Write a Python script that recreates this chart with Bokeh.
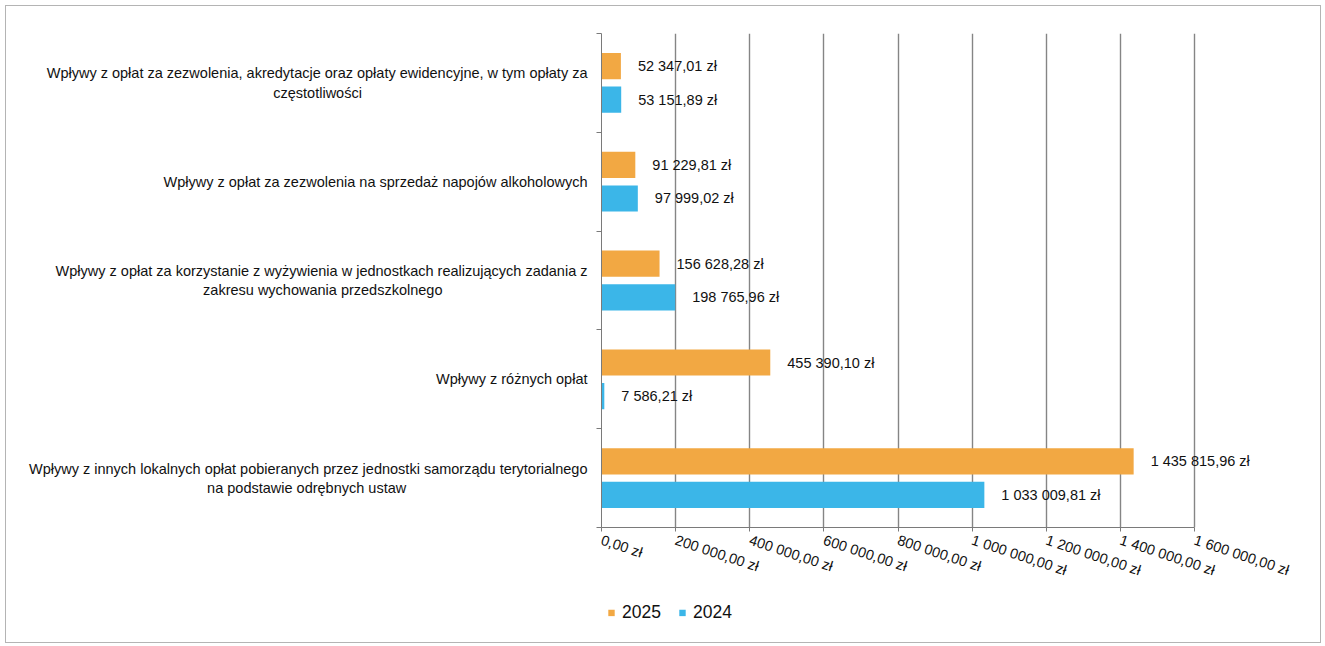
from bokeh.plotting import figure
from bokeh.layouts import column, row
from bokeh.models import (ColumnDataSource, Range1d, FixedTicker, Legend, LegendItem, Spacer)
from bokeh.transform import dodge
from bokeh.core.properties import value
from bokeh.embed import file_html
from bokeh.resources import INLINE

# ---------------- data ----------------
categories = [
    "Wpływy z opłat za zezwolenia, akredytacje oraz opłaty ewidencyjne, w tym opłaty za\nczęstotliwości",
    "Wpływy z opłat za zezwolenia na sprzedaż napojów alkoholowych",
    "Wpływy z opłat za korzystanie z wyżywienia w jednostkach realizujących zadania z\nzakresu wychowania przedszkolnego",
    "Wpływy z różnych opłat",
    "Wpływy z innych lokalnych opłat pobieranych przez jednostki samorządu terytorialnego\nna podstawie odrębnych ustaw",
]
series_names = ["2025", "2024"]
values_2025 = [52347.01, 91229.81, 156628.28, 455390.10, 1435815.96]
values_2024 = [53151.89, 97999.02, 198765.96, 7586.21, 1033009.81]
x_ticks = [0, 200000, 400000, 600000, 800000, 1000000, 1200000, 1400000, 1600000]
x_tick_labels = ["0,00 zł", "200 000,00 zł", "400 000,00 zł", "600 000,00 zł", "800 000,00 zł",
                 "1 000 000,00 zł", "1 200 000,00 zł", "1 400 000,00 zł", "1 600 000,00 zł"]

ORANGE = "#F2A843"
BLUE = "#3BB6E8"
FONT = "Liberation Sans"
TXT = "#111111"
FS = 14.5


def pl_money(v):
    s = f"{v:,.2f}"
    s = s.replace(",", " ").replace(".", ",")
    return s + " zł"


# approximate glyph advance widths (Arial / Liberation Sans, per 1000 em),
# used only to centre the second line of a wrapped category label
_W = {' ': 278, ',': 278, 'W': 944, 'a': 556, 'b': 556, 'c': 500, 'd': 556, 'e': 556,
      'f': 278, 'g': 556, 'h': 556, 'i': 222, 'j': 222, 'k': 500, 'l': 222, 'm': 833,
      'n': 556, 'o': 556, 'p': 556, 'r': 333, 's': 500, 't': 278, 'u': 556, 'v': 500,
      'w': 722, 'y': 500, 'z': 500, 'ł': 222, 'ę': 556, 'ą': 556, 'ś': 500, 'ó': 556,
      'ż': 500, 'ź': 500, 'ń': 556, 'ć': 500}


def text_w(s):
    return sum(_W.get(ch, 556) for ch in s)


def centre_lines(label):
    lines = label.split("\n")
    if len(lines) < 2:
        return label
    w1 = text_w(lines[0])
    out = [lines[0]]
    for ln in lines[1:]:
        pad = round((w1 - text_w(ln)) / 2 / _W[' '])
        out.append(ln + "\u00a0" * max(pad, 0))
    return "\n".join(out)


n = len(categories)
ypos = [n - 1 - i for i in range(n)]

src = ColumnDataSource(dict(
    y=ypos,
    v25=values_2025,
    v24=values_2024,
    l25=[pl_money(v) for v in values_2025],
    l24=[pl_money(v) for v in values_2024],
))

# ---------------- layout ----------------
W = 1314
H_MAIN, H_LEG = 584, 52
BL, BR, BT, BB = 595, 7, 27, 63
frame_w = W - BL - BR
axis_px = 593  # pixels covering 0 .. 1 600 000
x_end = x_ticks[-1] * frame_w / axis_px

p = figure(width=W, height=H_MAIN, output_backend="svg", toolbar_location=None,
           x_range=Range1d(0, x_end), y_range=Range1d(-0.5, n - 0.5),
           min_border_left=BL, min_border_right=BR, min_border_top=BT, min_border_bottom=BB)
p.outline_line_color = None
p.background_fill_color = "white"
p.border_fill_color = "white"

OFF = 0.17
BH = 0.265
r25 = p.hbar(y=dodge("y", OFF), left=0, right="v25", height=BH, source=src,
             fill_color=ORANGE, line_color=None)
r24 = p.hbar(y=dodge("y", -OFF), left=0, right="v24", height=BH, source=src,
             fill_color=BLUE, line_color=None)

for col, off in (("l25", OFF), ("l24", -OFF)):
    p.text(x="v" + col[1:], y=dodge("y", off), text=col, source=src,
           x_offset=17, text_baseline="middle", text_align="left",
           text_font=value(FONT), text_font_size=f"{FS}px", text_color=TXT)

# x axis
xa = p.xaxis[0]
xa.ticker = FixedTicker(ticks=x_ticks)
xa.major_label_overrides = {t: l for t, l in zip(x_ticks, x_tick_labels)}
xa.bounds = (x_ticks[0], x_ticks[-1])
xa.major_label_orientation = -0.32
xa.major_label_text_font = FONT
xa.major_label_text_font_size = f"{FS}px"
xa.major_label_text_color = TXT
xa.major_label_standoff = 8
xa.axis_line_color = "#7a7a7a"
xa.major_tick_line_color = "#7a7a7a"
xa.major_tick_out = 4
xa.major_tick_in = 0
xa.minor_tick_line_color = None

# y axis: labels at category centres, small ticks at category boundaries
ya = p.yaxis[0]
ya.ticker = FixedTicker(ticks=ypos, minor_ticks=[i - 0.5 for i in range(n + 1)])
ya.major_label_overrides = {y: centre_lines(c) for y, c in zip(ypos, categories)}
ya.major_label_text_font = FONT
ya.major_label_text_font_size = f"{FS}px"
ya.major_label_text_color = TXT
ya.major_label_text_line_height = 1.2
ya.major_label_standoff = 9
ya.major_tick_line_color = None
ya.major_tick_out = 0
ya.major_tick_in = 0
ya.axis_line_color = "#7a7a7a"
ya.minor_tick_line_color = "#7a7a7a"
ya.minor_tick_out = 5
ya.minor_tick_in = 0

p.xgrid.ticker = FixedTicker(ticks=x_ticks[1:])
p.xgrid.grid_line_color = "#858585"
p.xgrid.grid_line_width = 1.4
p.ygrid.grid_line_color = None

# ---------------- legend strip ----------------
LEG_X = 601
pl = figure(width=W - LEG_X, height=H_LEG, output_backend="svg", toolbar_location=None,
            x_range=Range1d(0, 1), y_range=Range1d(0, 1),
            x_axis_location=None, y_axis_location=None,
            min_border_left=0, min_border_right=0, min_border_top=0, min_border_bottom=8)
pl.outline_line_color = None
pl.xgrid.grid_line_color = None
pl.ygrid.grid_line_color = None
pl.background_fill_color = None
pl.border_fill_color = None
# legend-only renderers: zero-width bars, so nothing is drawn in the strip itself
g25 = pl.hbar(y=[0.5], right=[0], left=0, height=0.1, fill_color=ORANGE, line_color=None)
g24 = pl.hbar(y=[0.5], right=[0], left=0, height=0.1, fill_color=BLUE, line_color=None)

legend = Legend(items=[LegendItem(label=series_names[0], renderers=[g25]),
                       LegendItem(label=series_names[1], renderers=[g24])],
                orientation="horizontal", location="center_left")
legend.padding = 0
legend.margin = 0
legend.spacing = 17
legend.glyph_width = 8
legend.glyph_height = 8
legend.label_standoff = 7
legend.label_text_font = FONT
legend.label_text_font_size = "17.5px"
legend.label_text_color = TXT
legend.border_line_color = None
legend.background_fill_alpha = 0
pl.add_layout(legend)

page = column(p, row(Spacer(width=LEG_X, height=H_LEG), pl, spacing=0), spacing=0,
              styles={"border": "1px solid #b4b4b4", "margin-left": "5px", "margin-top": "5px",
                      "background-color": "white"})

open("out.html", "w").write(file_html(page, INLINE))
